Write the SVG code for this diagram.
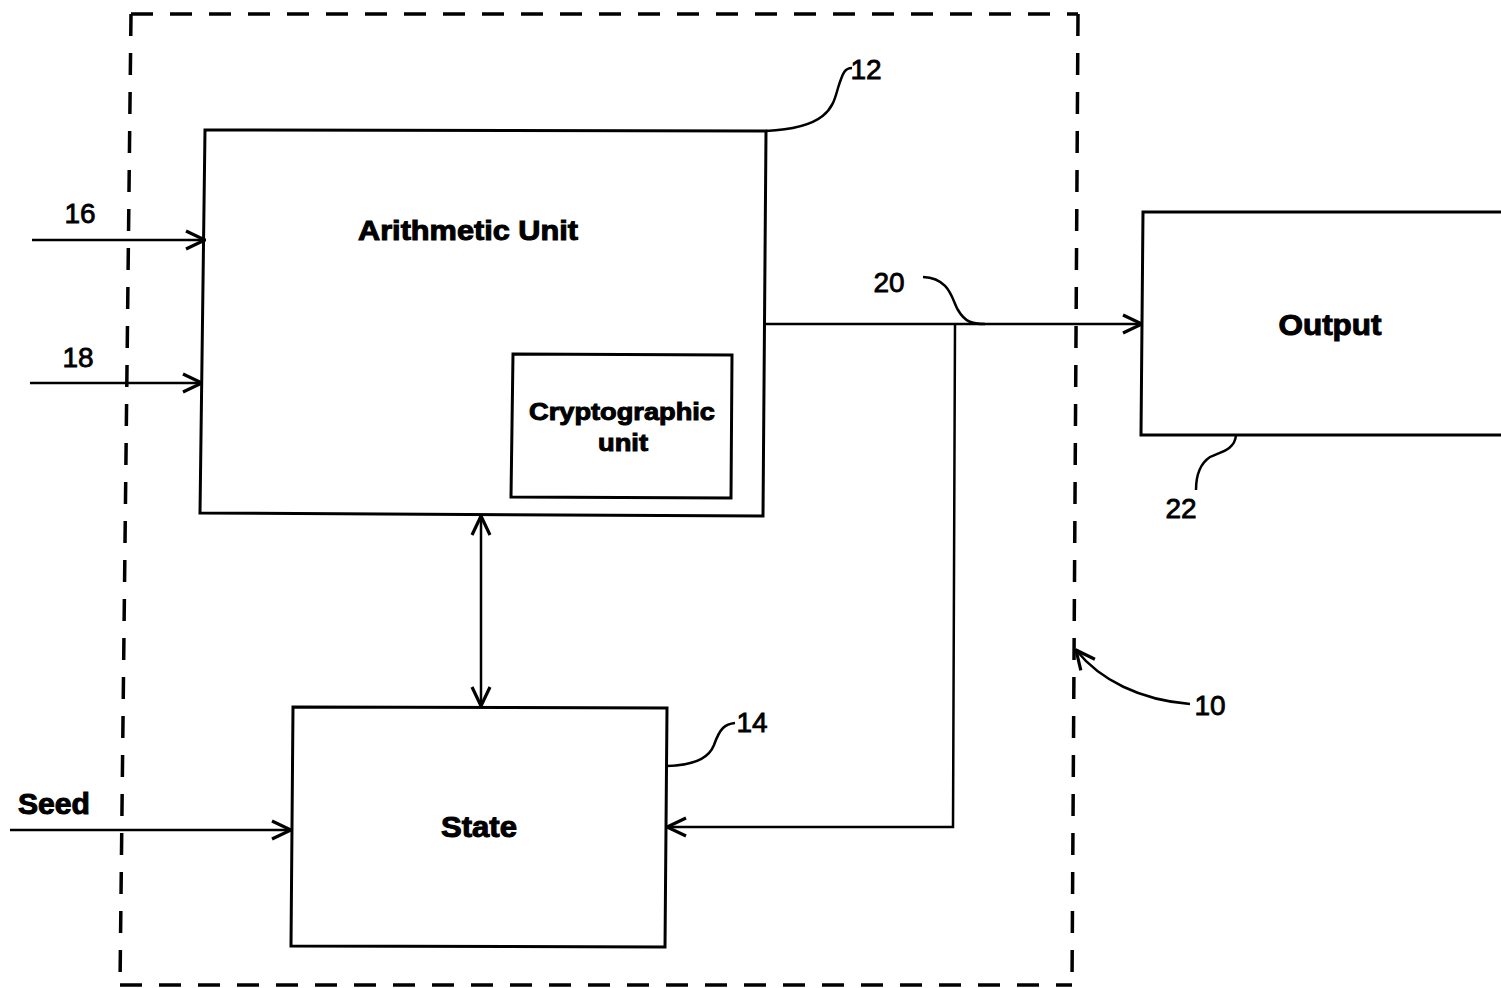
<svg xmlns="http://www.w3.org/2000/svg" width="1501" height="988" viewBox="0 0 1501 988">
<defs>
<style>
.box{fill:none;stroke:#000;stroke-width:3}
.ln{fill:none;stroke:#000;stroke-width:2.5}
.dash{fill:none;stroke:#000;stroke-width:3.5;stroke-dasharray:22 17}
.lbl{font-family:"Liberation Sans",Arial,sans-serif;font-weight:bold;fill:#000;stroke:#000;stroke-width:1;text-anchor:middle}
.num{font-family:"Liberation Sans",Arial,sans-serif;font-size:28px;fill:#000;stroke:#000;stroke-width:0.8;text-anchor:middle}
</style>
<marker id="ah" viewBox="0 0 22 22" refX="21" refY="11" markerWidth="22" markerHeight="22" markerUnits="userSpaceOnUse" orient="auto-start-reverse">
<path d="M2,2 L21,11 L2,20" fill="none" stroke="#000" stroke-width="3.2"/>
</marker>
</defs>
<rect width="1501" height="988" fill="#fff"/>
<g id="boundary">
<path class="dash" d="M131,14 L1078,14"/>
<path class="dash" d="M131,14 L120,985"/>
<path class="dash" d="M120,985 L1072,985"/>
<path class="dash" d="M1078,14 L1072,985"/>
</g>
<g id="connectors">
<path class="ln" d="M32,240 L205,240" marker-end="url(#ah)"/>
<path class="ln" d="M30,383 L202,383" marker-end="url(#ah)"/>
<path class="ln" d="M10,830 L291,830" marker-end="url(#ah)"/>
<path class="ln" d="M765,324 L1142,324" marker-end="url(#ah)"/>
<path class="ln" d="M955,324 L953,827 L667,827" marker-end="url(#ah)"/>
<path class="ln" d="M481,516 L481,706" marker-start="url(#ah)" marker-end="url(#ah)"/>
<path class="ln" d="M766,131 C830,128 833,105 838,88 C843,72 845,68 852,68"/>
<path class="ln" d="M923,277 C950,278 952,300 958,310 C965,322 972,324 985,324"/>
<path class="ln" d="M667,766 C700,765 710,755 714,745 C720,728 725,724 735,723"/>
<path class="ln" d="M1236,435 C1235,450 1220,452 1210,457 C1198,465 1196,478 1196,490"/>
<path class="ln" d="M1190,704 C1140,700 1100,680 1076,650" marker-end="url(#ah)"/>
</g>
<g id="arithmetic-unit">
<path class="box" d="M205,130 L766,131 L763,516 L200,513 Z"/>
<text class="lbl" x="468" y="240" font-size="27" textLength="220" lengthAdjust="spacingAndGlyphs">Arithmetic Unit</text>
<text class="num" x="866" y="79">12</text>
</g>
<g id="cryptographic-unit">
<path class="box" d="M513,354 L732,355 L731,498 L511,497 Z"/>
<text class="lbl" x="622" y="420" font-size="24" textLength="186" lengthAdjust="spacingAndGlyphs">Cryptographic</text>
<text class="lbl" x="623" y="451" font-size="24" textLength="50" lengthAdjust="spacingAndGlyphs">unit</text>
</g>
<g id="state">
<path class="box" d="M293,707 L667,708 L665,947 L291,946 Z"/>
<text class="lbl" x="479" y="837" font-size="29" textLength="76" lengthAdjust="spacingAndGlyphs">State</text>
<text class="num" x="752" y="732">14</text>
</g>
<g id="output">
<path class="box" d="M1503,212 L1143,212 L1141,435 L1503,435"/>
<text class="lbl" x="1330" y="335" font-size="29" textLength="103" lengthAdjust="spacingAndGlyphs">Output</text>
<text class="num" x="1181" y="518">22</text>
</g>
<g id="labels">
<text class="num" x="80" y="223">16</text>
<text class="num" x="78" y="367">18</text>
<text class="lbl" x="54" y="814" font-size="29" textLength="72" lengthAdjust="spacingAndGlyphs">Seed</text>
<text class="num" x="889" y="292">20</text>
<text class="num" x="1210" y="715">10</text>
</g>
</svg>
